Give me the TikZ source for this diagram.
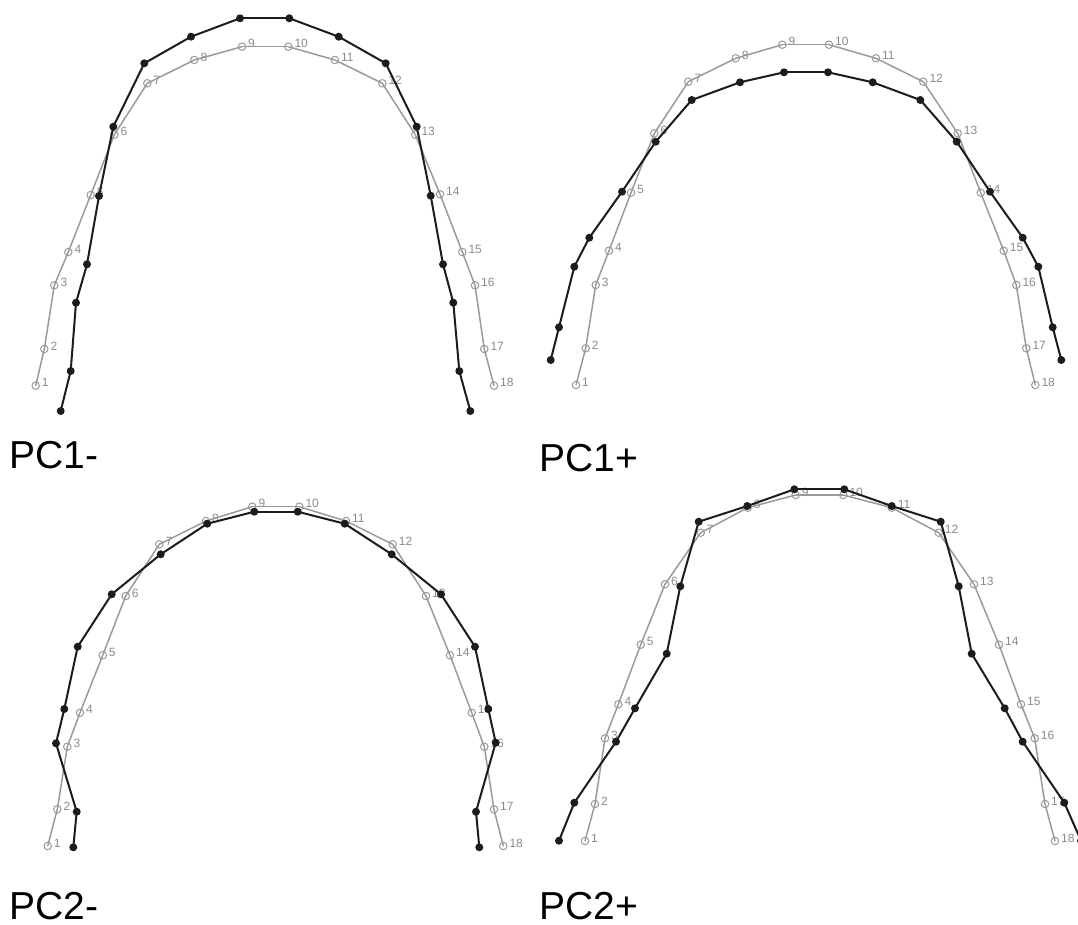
\documentclass[tikz,border=0pt]{standalone}
\usepackage{fontspec}
\newfontfamily\arialfont{Liberation Sans}
\usetikzlibrary{calc}
\definecolor{meangray}{HTML}{9A9A9A}
\definecolor{labelgray}{HTML}{8A8A8A}
\definecolor{shapeblack}{HTML}{1C1C1C}
\tikzset{%
  % Specifications for style of nodes:
            meanpt/.style = {circle, draw=meangray, line width=1pt, fill=none,
                             minimum size=7.5pt, inner sep=0pt},
           shapept/.style = {circle, fill=shapeblack, minimum size=8pt, inner sep=0pt},
           ptlabel/.style = {anchor=base west, inner sep=0pt, text=labelgray,
                             font=\arialfont\fontsize{12}{12}\selectfont},
           pclabel/.style = {anchor=base west, inner sep=0pt, text=black,
                             font=\arialfont\fontsize{39}{39}\selectfont},
          meanline/.style = {draw=meangray, line width=1.5pt},
         shapeline/.style = {draw=shapeblack, line width=2pt}
                           }

\begin{document}
\begin{tikzpicture}[x=1pt, y=-1pt]
\useasboundingbox (0,0) rectangle (1078,924);

% PC1-
\foreach \x/\y [count=\i] in {35.7/385.7, 44.3/349, 54.3/285.3, 68.3/252, 90.7/195, 114.3/134.7,
    147.3/83.3, 194.3/60, 242/46.7, 288.3/46.7, 335/60, 382.3/83.3, 415.3/134.7, 440/194.3,
    462.3/252, 475/285.3, 484.3/349, 494/385.7} {
  \node (meanA\i) [meanpt] at (\x,\y) {};
  \node (numA\i)  [ptlabel] at (\x+6,\y+1) {\i};
}
\foreach \i [count=\j from 2] in {1,...,17}
  \draw[meanline] (meanA\i.center) -- (meanA\j.center);
\foreach \x/\y [count=\i] in {60.7/411, 70.7/371, 76/302.7, 87/264.3, 99/196, 113.3/126.7,
    144.3/63.3, 191/36.7, 240/18.3, 289.3/18.3, 338.7/36.7, 385.7/63.3, 416.7/126.7,
    430.7/195.7, 443/264.3, 453.3/302.7, 459.3/371, 470.3/411}
  \node (shapeA\i) [shapept] at (\x,\y) {};
\foreach \i [count=\j from 2] in {1,...,17}
  \draw[shapeline] (shapeA\i.center) -- (shapeA\j.center);
\node (titleA) [pclabel] at (9.5,468) {PC1-};

% PC1+
\foreach \x/\y [count=\i] in {576/385, 585.7/348.3, 595.7/285, 609/250.7, 631/192.7, 654.3/133.3,
    688.3/81.7, 735.7/58.3, 782.3/44.7, 829/44.7, 876/58.3, 923.3/81.7, 957.7/133.3,
    980.7/192.7, 1003.7/250.7, 1016.3/285, 1026.3/348.3, 1035.3/385} {
  \node (meanB\i) [meanpt] at (\x,\y) {};
  \node (numB\i)  [ptlabel] at (\x+6,\y+1) {\i};
}
\foreach \i [count=\j from 2] in {1,...,17}
  \draw[meanline] (meanB\i.center) -- (meanB\j.center);
\foreach \x/\y [count=\i] in {550.7/360, 559/327.3, 574.3/266.7, 589.3/237.7, 622/191.7,
    655.7/141.7, 691.7/100, 740/82.3, 784/72.3, 828/72.3, 872.7/82.3, 920.3/100, 956.7/141.7,
    990/191.7, 1022.7/237.7, 1038.3/266.7, 1052.7/327.3, 1061.3/360}
  \node (shapeB\i) [shapept] at (\x,\y) {};
\foreach \i [count=\j from 2] in {1,...,17}
  \draw[shapeline] (shapeB\i.center) -- (shapeB\j.center);
\node (titleB) [pclabel] at (539.5,471.5) {PC1+};

% PC2-
\foreach \x/\y [count=\i] in {47.7/846, 57.3/809.3, 67.3/746.7, 80/712.7, 102.7/655.3, 125.7/596,
    159.3/544.3, 206/521, 252.3/506.7, 299.3/506.7, 346/521, 392.7/544.3, 426/596, 450/655.3,
    471.7/712.7, 484.3/746.7, 494/809.3, 503.3/846} {
  \node (meanC\i) [meanpt] at (\x,\y) {};
  \node (numC\i)  [ptlabel] at (\x+6,\y+1) {\i};
}
\foreach \i [count=\j from 2] in {1,...,17}
  \draw[meanline] (meanC\i.center) -- (meanC\j.center);
\foreach \x/\y [count=\i] in {73.3/847.3, 76.7/811.7, 56/743.3, 64.3/709, 77.7/646.7, 111.7/594.3,
    160.7/554.3, 207.3/523.7, 254.3/511.7, 297.7/511.7, 344.7/523.7, 391.7/554.3, 441/594.3,
    475/646.7, 488.3/709, 495.7/742.7, 476/811.7, 479.3/847.3}
  \node (shapeC\i) [shapept] at (\x,\y) {};
\foreach \i [count=\j from 2] in {1,...,17}
  \draw[shapeline] (shapeC\i.center) -- (shapeC\j.center);
\node (titleC) [pclabel] at (9.5,919) {PC2-};

% PC2+
\foreach \x/\y [count=\i] in {585/841, 595/804, 605/738.3, 618.3/704.3, 640.7/644.7, 665/584.3,
    700.7/532.7, 747.7/507.7, 795.7/495, 843.3/495, 891.7/507.7, 938.7/532.7, 974/584.3,
    999/644.7, 1021/704.3, 1034.7/738.3, 1045/804, 1055/841} {
  \node (meanD\i) [meanpt] at (\x,\y) {};
  \node (numD\i)  [ptlabel] at (\x+6,\y+1) {\i};
}
\foreach \i [count=\j from 2] in {1,...,17}
  \draw[meanline] (meanD\i.center) -- (meanD\j.center);
\foreach \x/\y [count=\i] in {559/840.7, 574.3/802.7, 616/741.7, 635/708.3, 666.7/653.7,
    680.3/586.3, 698.7/521.7, 747.3/506, 794.3/489.3, 844.3/489.3, 891.7/506, 940.7/521.7,
    958.7/586.3, 971.7/653.7, 1004.7/708.3, 1022.7/741.7, 1064.3/802.7, 1081/840.7}
  \node (shapeD\i) [shapept] at (\x,\y) {};
\foreach \i [count=\j from 2] in {1,...,17}
  \draw[shapeline] (shapeD\i.center) -- (shapeD\j.center);
\node (titleD) [pclabel] at (539.5,919) {PC2+};

\end{tikzpicture}
\end{document}
